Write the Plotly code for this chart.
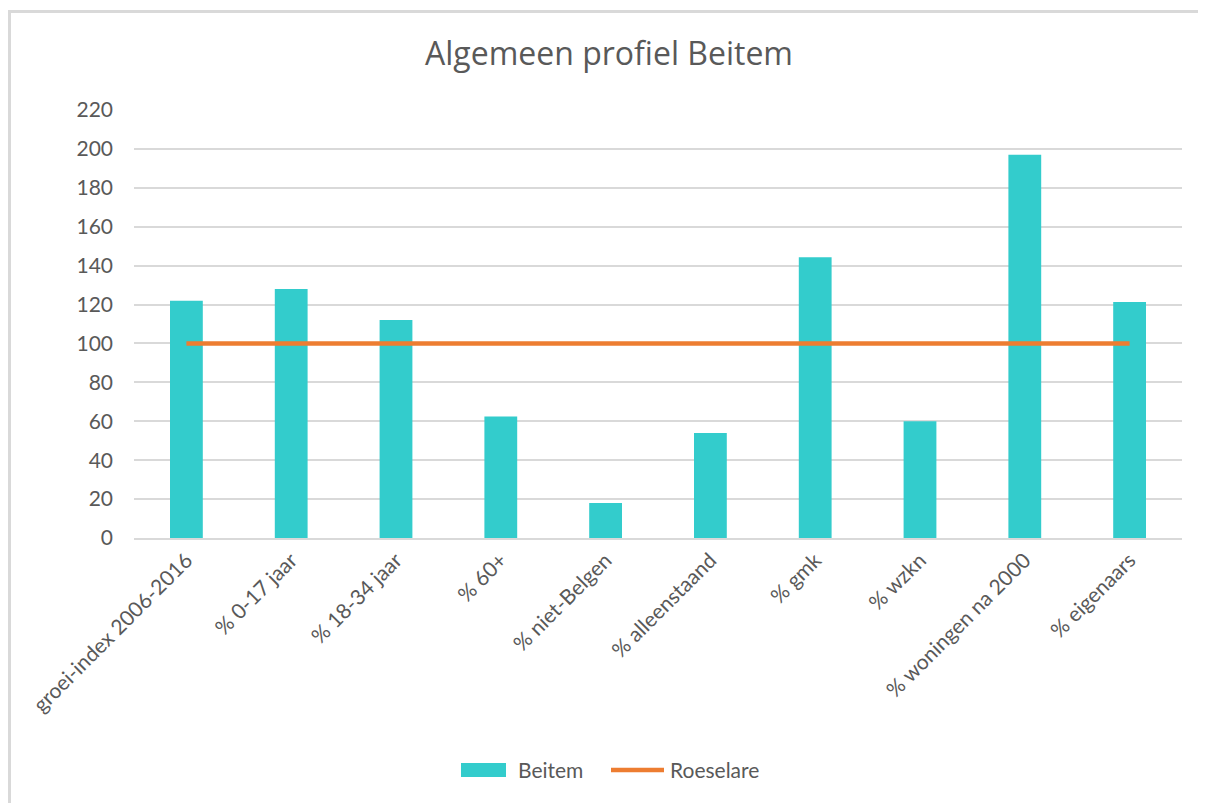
import plotly.graph_objects as go

categories = ["groei-index 2006-2016", "% 0-17 jaar", "% 18-34 jaar", "% 60+",
              "% niet-Belgen", "% alleenstaand", "% gmk", "% wzkn",
              "% woningen na 2000", "% eigenaars"]
beitem = [122, 128, 112, 62.5, 18, 54, 144.3, 60, 197, 121.3]
roeselare = [100, 100, 100, 100, 100, 100, 100, 100, 100, 100]
series_names = ["Beitem", "Roeselare"]

# page body has an 8px margin; work in window pixels and convert
OX, OY = 8, 8
W, H = 1206 - OX, 803 - OY
L, R, T, B = 134, 1182, 110, 538   # plot area in window pixels
pw, ph = R - L, B - T

def px(x):
    return (x - L) / pw

def py(y):
    return (B - y) / ph

FONT = "Lato"
GREY = "#595959"
TEAL = "#33CCCC"
ORANGE = "#ED7D31"
BORDER = "#D9D9D9"

fig = go.Figure()
fig.add_trace(go.Bar(x=categories, y=beitem, name=series_names[0],
                     marker=dict(color=TEAL, line=dict(width=0)), showlegend=False))
fig.add_trace(go.Scatter(x=categories, y=roeselare, name=series_names[1], mode="lines",
                         line=dict(color=ORANGE, width=4.5), showlegend=False))

fig.update_layout(
    width=W, height=H,
    margin=dict(l=L - OX, r=(W + OX) - R, t=T - OY, b=(H + OY) - B),
    paper_bgcolor="white", plot_bgcolor="white",
    bargap=0.687,
    font=dict(family=FONT, color=GREY, size=20),
    title=dict(text="Algemeen profiel Beitem", x=(609 - OX) / W, xref="container",
               y=1 - (54 - OY) / H, yanchor="middle", xanchor="center",
               font=dict(family="Open Sans", size=32, color=GREY)),
)
fig.update_xaxes(tickangle=-45, showgrid=False, showline=True, linecolor=BORDER,
                 linewidth=1.5, ticks="", tickfont=dict(family=FONT, size=21, color=GREY),
                 fixedrange=True)
fig.update_yaxes(range=[0, 220], dtick=20, showgrid=True, gridcolor=BORDER, gridwidth=1.5,
                 zeroline=False, showline=False, ticks="", ticklabelstandoff=20,
                 tickfont=dict(family=FONT, size=21, color=GREY), fixedrange=True)

# chart-area border (only top and left edges visible in the reference)
fig.add_shape(type="line", xref="paper", yref="paper",
              x0=px(8), x1=px(1206), y0=py(11.5), y1=py(11.5),
              line=dict(color=BORDER, width=3))
fig.add_shape(type="line", xref="paper", yref="paper",
              x0=px(9.5), x1=px(9.5), y0=py(10), y1=py(803),
              line=dict(color=BORDER, width=3))

# legend (drawn manually to match the wide swatches)
fig.add_shape(type="rect", xref="paper", yref="paper",
              x0=px(461), x1=px(506), y0=py(777), y1=py(763),
              line=dict(width=0), fillcolor=TEAL)
fig.add_annotation(xref="paper", yref="paper", x=px(516), y=py(770), text=series_names[0],
                   showarrow=False, xanchor="left", yanchor="middle",
                   font=dict(family=FONT, size=21, color=GREY))
fig.add_shape(type="line", xref="paper", yref="paper",
              x0=px(611), x1=px(664), y0=py(770), y1=py(770),
              line=dict(color=ORANGE, width=4.5))
fig.add_annotation(xref="paper", yref="paper", x=px(668), y=py(770), text=series_names[1],
                   showarrow=False, xanchor="left", yanchor="middle",
                   font=dict(family=FONT, size=21, color=GREY))

fig.write_html("out.html")
